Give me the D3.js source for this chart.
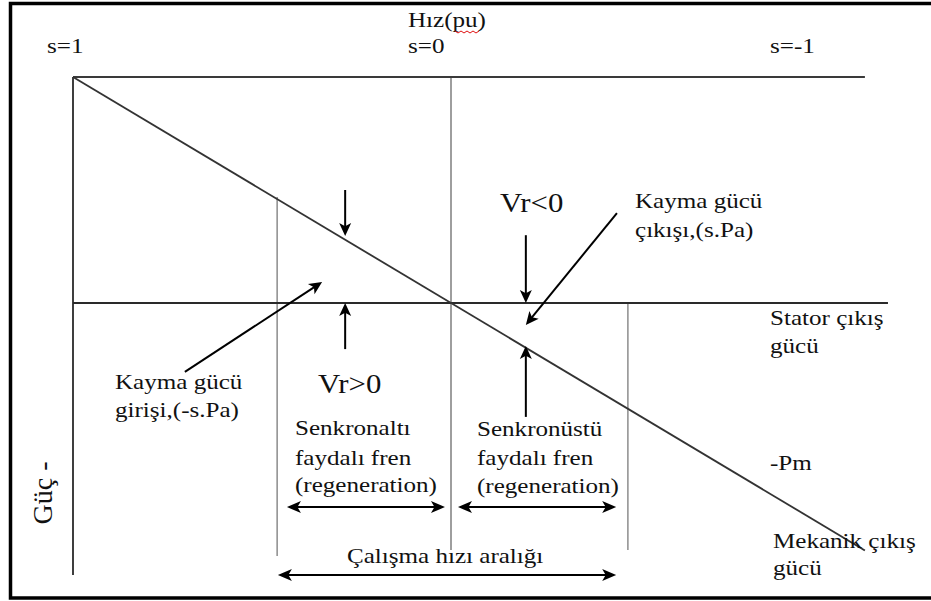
<!DOCTYPE html>
<html>
<head>
<meta charset="utf-8">
<script src="https://cdn.jsdelivr.net/npm/d3@7"></script>
<style>
  html, body { margin: 0; padding: 0; background: #fff; }
  svg { display: block; }
</style>
</head>
<body>
<svg id="chart" width="931" height="601"></svg>
<script>
// ---------- data (slip s on x, power P on y, P normalised so top axis = 1) ----------
const slipTicks = [1, 0, -1];
const slipTickLabels = ["s=1", "s=0", "s=-1"];
const axisTitle = "Hız(pu)";
const powerLabel = "Güç -";

// main power line: P = s (stator output vs slip) endpoints
const powerLineS = [1, -1.095];
const powerLineP = [1, -1.095];

// reference lines [s1, P1, s2, P2]
const speedAxis   = [1, 1, -1.095, 1];
const zeroLine    = [1, 0, -1.156, 0];
const powerAxis   = [1, 1, 1, -1.204];
const syncLine    = [0, 1, 0, -1.093];
const lowLimit    = [0.46, 0.469, 0.46, -1.12];
const highLimit   = [-0.468, 0, -0.468, -1.093];

// single arrows [sFrom, PFrom, sTo, PTo]
const singleArrows = [
  [0.28, 0.50, 0.28, 0.296],
  [0.28, -0.204, 0.28, 0.0],
  [0.704, -0.305, 0.341, 0.093],
  [-0.198, 0.30, -0.198, 0.0],
  [-0.439, 0.398, -0.198, -0.097],
  [-0.198, -0.504, -0.198, -0.19]
];
// double arrows [sLeft, sRight, P]
const doubleArrows = [
  [0.434, 0.016, -0.903],
  [-0.0185, -0.437, -0.903],
  [0.458, -0.437, -1.204]
];

// ---------- scales ----------
const x = d3.scaleLinear().domain([1, 0]).range([73, 451]);
const y = d3.scaleLinear().domain([1, 0]).range([77, 303]);

const svg = d3.select("#chart");
const FONT = "'Liberation Serif', 'Times New Roman', 'DejaVu Serif', serif";

// frame (left, top, bottom; right side cropped off)
svg.append("path")
  .attr("d", "M931,3.5 L10.5,3.5 L10.5,598 L931,598")
  .attr("fill", "none").attr("stroke", "#000").attr("stroke-width", 3.5);

function seg(a, color, w) {
  svg.append("line")
    .attr("x1", x(a[0])).attr("y1", y(a[1]))
    .attr("x2", x(a[2])).attr("y2", y(a[3]))
    .attr("stroke", color).attr("stroke-width", w);
}
seg(lowLimit, "#7a7a7a", 1.3);
seg(highLimit, "#7a7a7a", 1.3);
seg(syncLine, "#6a6a6a", 1.3);
seg(speedAxis, "#3a3a3a", 2.2);
seg(zeroLine, "#2a2a2a", 1.8);
seg(powerAxis, "#2a2a2a", 1.8);

// diagonal power line
svg.append("path")
  .datum(powerLineS.map((s, i) => [s, powerLineP[i]]))
  .attr("d", d3.line().x(d => x(d[0])).y(d => y(d[1])))
  .attr("fill", "none").attr("stroke", "#333").attr("stroke-width", 1.8);

// arrowheads
function head(px, py, dx, dy, len, wid) {
  const L = Math.hypot(dx, dy); const ux = dx / L, uy = dy / L;
  const bx = px - ux * len, by = py - uy * len;
  const nx = -uy * wid / 2, ny = ux * wid / 2;
  svg.append("path")
    .attr("d", `M${px},${py}L${bx + nx},${by + ny}L${bx + ux*len*0.25},${by + uy*len*0.25}L${bx - nx},${by - ny}Z`)
    .attr("fill", "#000");
}
singleArrows.forEach(a => {
  const x1 = x(a[0]), y1 = y(a[1]), x2 = x(a[2]), y2 = y(a[3]);
  const L = Math.hypot(x2 - x1, y2 - y1);
  const ux = (x2 - x1) / L, uy = (y2 - y1) / L;
  svg.append("line").attr("x1", x1).attr("y1", y1)
    .attr("x2", x2 - ux * 8).attr("y2", y2 - uy * 8)
    .attr("stroke", "#000").attr("stroke-width", 2);
  head(x2, y2, x2 - x1, y2 - y1, 13, 12);
});
doubleArrows.forEach(a => {
  const x1 = x(a[0]), x2 = x(a[1]), yy = y(a[2]);
  svg.append("line").attr("x1", x1 + 8).attr("x2", x2 - 8)
    .attr("y1", yy).attr("y2", yy).attr("stroke", "#000").attr("stroke-width", 2);
  head(x1, yy, -1, 0, 14, 12);
  head(x2, yy, 1, 0, 14, 12);
});

// ---------- text ----------
function txt(str, px, py, size) {
  svg.append("text")
    .attr("transform", `translate(${px},${py}) scale(1.14,1)`)
    .attr("font-family", FONT)
    .attr("fill", "#111")
    .attr("font-size", size || 22)
    .text(str);
}
txt(axisTitle, 408, 27);
// red spell-check squiggle under "pu"
svg.append("path")
  .attr("d", d3.range(0, 9).map((i) => (i ? "L" : "M") + (455 + i * 3) + "," + (31 + (i % 2 ? 2 : 0))).join(""))
  .attr("fill", "none").attr("stroke", "#e01010").attr("stroke-width", 1);

const tickLabelX = [47, 408, 770];
slipTicks.forEach((s, i) => txt(slipTickLabels[i], tickLabelX[i], 53));

txt("Vr<0", 500, 212, 27);
txt("Kayma gücü", 635, 208);
txt("çıkışı,(s.Pa)", 635, 237);
txt("Stator çıkış", 770, 325);
txt("gücü", 770, 353);
txt("Kayma gücü", 115, 389);
txt("girişi,(-s.Pa)", 115, 417);
txt("Vr>0", 318, 393, 27);
txt("Senkronaltı", 295, 435);
txt("faydalı fren", 295, 465);
txt("(regeneration)", 295, 492);
txt("Senkronüstü", 477, 436);
txt("faydalı fren", 477, 465);
txt("(regeneration)", 477, 493);
txt("-Pm", 770, 470);
txt("Mekanik çıkış", 773, 548);
txt("gücü", 773, 575);
txt("Çalışma hızı aralığı", 347, 563);

svg.append("text")
  .attr("transform", "translate(52,493) rotate(-90)")
  .attr("text-anchor", "middle")
  .attr("font-family", FONT)
  .attr("fill", "#111")
  .attr("font-size", 28)
  .text(powerLabel);
</script>
</body>
</html>
